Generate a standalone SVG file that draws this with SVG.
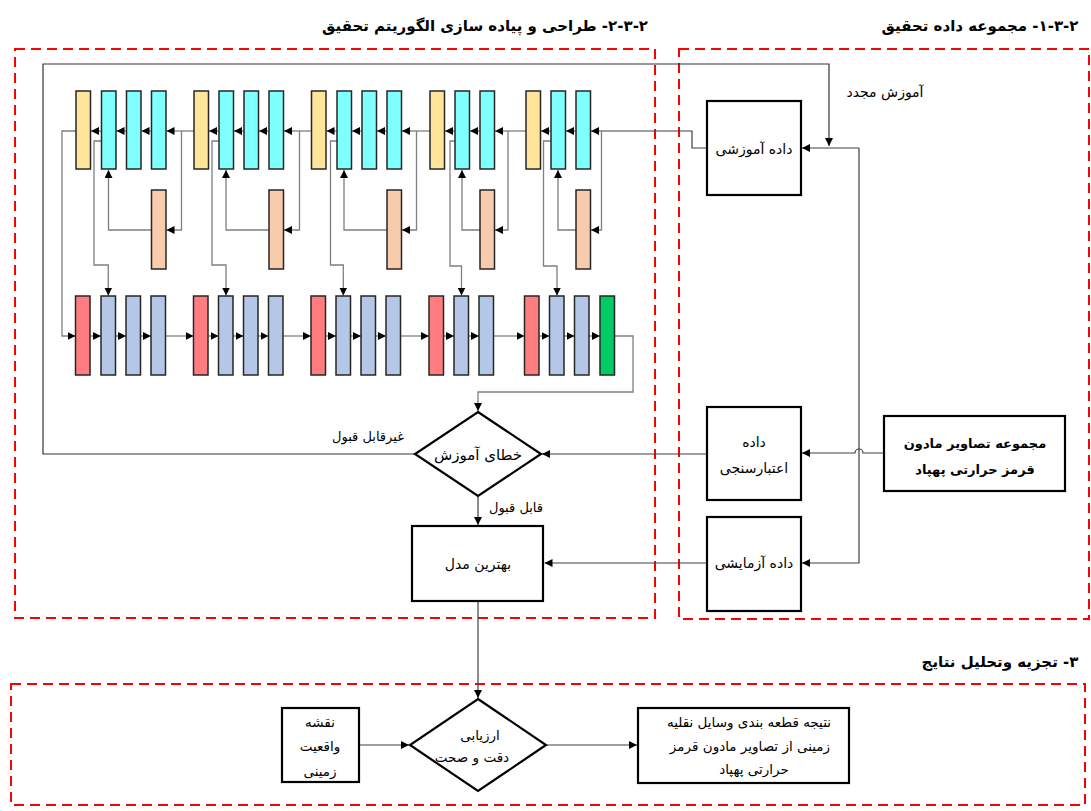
<svg xmlns="http://www.w3.org/2000/svg" width="1091" height="811" viewBox="0 0 1091 811">
<defs>
<marker id="arr" markerUnits="userSpaceOnUse" markerWidth="8" markerHeight="8" refX="7" refY="3.5" orient="auto" viewBox="0 0 7 7">
<path d="M0,0 L7,3.5 L0,7 z" fill="#000"/>
</marker>
<style>
.region{fill:none;stroke:#ff0000;stroke-width:2;stroke-dasharray:10,6}
.box{fill:#fff;stroke:#000;stroke-width:2.2}
.blk{stroke:#262626;stroke-width:1.5}
.y{fill:#ffe599}
.c{fill:#80ffff}
.o{fill:#f8cbad}
.r{fill:#ff7c80}
.b{fill:#b4c7e7}
.g{fill:#00cc66}
.net{fill:none;stroke:#7f7f7f;stroke-width:1.3}
.net2{fill:none;stroke:#7f7f7f;stroke-width:1.3;marker-end:url(#arr)}
.ln{fill:none;stroke:#404040;stroke-width:1.2}
.la{fill:none;stroke:#404040;stroke-width:1.2;marker-end:url(#arr)}
text{font-family:"DejaVu Sans","Noto Sans",sans-serif;fill:#000;direction:rtl;unicode-bidi:bidi-override;text-anchor:middle}
.t{font-size:15px;font-weight:bold}
.n{font-size:14px}
.nb{font-size:13px;font-weight:bold}
.s{font-size:13.5px}
</style>
</defs>

<g id="regions">
<rect class="region" x="15" y="49" width="640" height="569"/>
<rect class="region" x="679" y="49" width="410" height="570"/>
<rect class="region" x="11" y="684" width="1074" height="121"/>
</g>

<g id="titles">
<text class="t" x="980" y="31">۲-۳-۱- مجموعه داده تحقیق</text>
<text class="t" x="485" y="31">۲-۳-۲- طراحی و پیاده سازی الگوریتم تحقیق</text>
<text class="t" x="1000" y="667">۳- تجزیه وتحلیل نتایج</text>
</g>

<g id="connectors">
<path class="ln" d="M415,454 L43,454 L43,64 L829,64 L829,146" style="stroke:#333;marker-end:url(#arr)"/>
<path class="la" d="M707,148 L692,148 L692,131 L591,131"/>
<path class="net2" d="M576,131 L566,131"/>
<path class="net2" d="M551,131 L541,131"/>
<path class="net2" d="M526,131 L495,131"/>
<path class="net2" d="M480,131 L470,131"/>
<path class="net2" d="M455,131 L445,131"/>
<path class="net2" d="M430,131 L402,131"/>
<path class="net2" d="M387,131 L377,131"/>
<path class="net2" d="M362,131 L352,131"/>
<path class="net2" d="M337,131 L326.5,131"/>
<path class="net2" d="M311.5,131 L284,131"/>
<path class="net2" d="M269,131 L259,131"/>
<path class="net2" d="M244,131 L234,131"/>
<path class="net2" d="M219,131 L209,131"/>
<path class="net2" d="M194,131 L166.5,131"/>
<path class="net2" d="M151.5,131 L141.5,131"/>
<path class="net2" d="M126.5,131 L116.5,131"/>
<path class="net2" d="M101.5,131 L91,131"/>
<path class="net2" d="M76,131 L62,131 L62,336 L75.5,336"/>
<path class="net2" d="M601.5,131 L601.5,230 L591,230"/>
<path class="net2" d="M576,230 L558,230 L558,170"/>
<path class="net2" d="M508,131 L508,230 L495,230"/>
<path class="net2" d="M480,230 L462,230 L462,170"/>
<path class="net2" d="M416.5,131 L416.5,230 L402,230"/>
<path class="net2" d="M387,230 L344,230 L344,170"/>
<path class="net2" d="M299.5,131 L299.5,230 L284,230"/>
<path class="net2" d="M269,230 L226,230 L226,170"/>
<path class="net2" d="M181.5,131 L181.5,230 L166.5,230"/>
<path class="net2" d="M151.5,230 L108.5,230 L108.5,170"/>
<path class="net2" d="M101.5,141 L94,141 L94,265 L108.3,265 L108.3,295.5"/>
<path class="net2" d="M219,141 L212,141 L212,265 L226,265 L226,295.5"/>
<path class="net2" d="M337,141 L330.5,141 L330.5,265 L343.3,265 L343.3,295.5"/>
<path class="net2" d="M455,141 L450,141 L450,266 L461.5,266 L461.5,295.5"/>
<path class="net2" d="M551,141 L543.5,141 L543.5,266 L557,266 L557,295.5"/>
<path class="net2" d="M90,336 L101,336"/>
<path class="net2" d="M115.5,336 L126,336"/>
<path class="net2" d="M140.5,336 L151,336"/>
<path class="net2" d="M165.5,336 L193.5,336"/>
<path class="net2" d="M208,336 L218.5,336"/>
<path class="net2" d="M233,336 L243.5,336"/>
<path class="net2" d="M258,336 L268.5,336"/>
<path class="net2" d="M283,336 L311,336"/>
<path class="net2" d="M325.5,336 L336,336"/>
<path class="net2" d="M350.5,336 L361,336"/>
<path class="net2" d="M375.5,336 L386,336"/>
<path class="net2" d="M400.5,336 L429,336"/>
<path class="net2" d="M443.5,336 L454,336"/>
<path class="net2" d="M468.5,336 L479,336"/>
<path class="net2" d="M493.5,336 L524.5,336"/>
<path class="net2" d="M539,336 L549.5,336"/>
<path class="net2" d="M564,336 L574.5,336"/>
<path class="net2" d="M589,336 L600,336"/>
<path class="net2" d="M614.5,336 L633,336 L633,392 L478,392 L478,411"/>
<path class="la" d="M859,148 L802,148"/>
<path class="la" d="M859,148 L859,563 L802,563"/>
<path class="la" d="M884,453 L863,453 A4,4 0 0 0 855,453 L802,453"/>
<path class="la" d="M707,454 L542,454"/>
<path class="la" d="M707,563 L544.5,563"/>
<path class="la" d="M478,496 L478,525"/>
<path class="la" d="M478,601 L478,698"/>
<path class="la" d="M359,745 L409,745"/>
<path class="la" d="M546,745 L637,745"/>
</g>

<g id="labels">
<text class="n" x="885" y="97">آموزش مجدد</text>
<text class="n" style="font-size:13px" x="368" y="441">غیرقابل قبول</text>
<text class="n" style="font-size:13px" x="516" y="512">قابل قبول</text>
</g>

<g id="network">
<g id="top-row">
<rect class="blk y" x="76" y="91" width="14.5" height="78"/>
<rect class="blk c" x="101.5" y="91" width="14.5" height="78"/>
<rect class="blk c" x="126.5" y="91" width="14.5" height="78"/>
<rect class="blk c" x="151.5" y="91" width="14.5" height="78"/>
<rect class="blk y" x="194" y="91" width="14.5" height="78"/>
<rect class="blk c" x="219" y="91" width="14.5" height="78"/>
<rect class="blk c" x="244" y="91" width="14.5" height="78"/>
<rect class="blk c" x="269" y="91" width="14.5" height="78"/>
<rect class="blk y" x="311.5" y="91" width="14.5" height="78"/>
<rect class="blk c" x="337" y="91" width="14.5" height="78"/>
<rect class="blk c" x="362" y="91" width="14.5" height="78"/>
<rect class="blk c" x="387" y="91" width="14.5" height="78"/>
<rect class="blk y" x="430" y="91" width="14.5" height="78"/>
<rect class="blk c" x="455" y="91" width="14.5" height="78"/>
<rect class="blk c" x="480" y="91" width="14.5" height="78"/>
<rect class="blk y" x="526" y="91" width="14.5" height="78"/>
<rect class="blk c" x="551" y="91" width="14.5" height="78"/>
<rect class="blk c" x="576" y="91" width="14.5" height="78"/>
</g>
<g id="mid-row">
<rect class="blk o" x="151.5" y="190" width="14.5" height="79"/>
<rect class="blk o" x="269" y="190" width="14.5" height="79"/>
<rect class="blk o" x="387" y="190" width="14.5" height="79"/>
<rect class="blk o" x="480" y="190" width="14.5" height="79"/>
<rect class="blk o" x="576" y="190" width="14.5" height="79"/>
</g>
<g id="bottom-row">
<rect class="blk r" x="75.5" y="296" width="14.5" height="79"/>
<rect class="blk b" x="101" y="296" width="14.5" height="79"/>
<rect class="blk b" x="126" y="296" width="14.5" height="79"/>
<rect class="blk b" x="151" y="296" width="14.5" height="79"/>
<rect class="blk r" x="193.5" y="296" width="14.5" height="79"/>
<rect class="blk b" x="218.5" y="296" width="14.5" height="79"/>
<rect class="blk b" x="243.5" y="296" width="14.5" height="79"/>
<rect class="blk b" x="268.5" y="296" width="14.5" height="79"/>
<rect class="blk r" x="311" y="296" width="14.5" height="79"/>
<rect class="blk b" x="336" y="296" width="14.5" height="79"/>
<rect class="blk b" x="361" y="296" width="14.5" height="79"/>
<rect class="blk b" x="386" y="296" width="14.5" height="79"/>
<rect class="blk r" x="429" y="296" width="14.5" height="79"/>
<rect class="blk b" x="454" y="296" width="14.5" height="79"/>
<rect class="blk b" x="479" y="296" width="14.5" height="79"/>
<rect class="blk r" x="524.5" y="296" width="14.5" height="79"/>
<rect class="blk b" x="549.5" y="296" width="14.5" height="79"/>
<rect class="blk b" x="574.5" y="296" width="14.5" height="79"/>
<rect class="blk g" x="600" y="296" width="14.5" height="79"/>
</g>
</g>

<g id="train-data">
<rect class="box" x="707" y="101" width="94" height="94"/>
<text class="n" x="754" y="154">داده آموزشی</text>
</g>
<g id="val-data">
<rect class="box" x="707" y="407" width="94" height="93"/>
<text class="n" x="754" y="447">داده</text>
<text class="n" x="754" y="473">اعتبارسنجی</text>
</g>
<g id="test-data">
<rect class="box" x="707" y="517" width="94" height="94"/>
<text class="n" x="754" y="568">داده آزمایشی</text>
</g>
<g id="source">
<rect class="box" x="884" y="416" width="181" height="75"/>
<text class="nb" x="975" y="448">مجموعه تصاویر مادون</text>
<text class="nb" x="975" y="474">قرمز حرارتی پهپاد</text>
</g>
<g id="error-diamond">
<polygon class="box" points="478,412 541,454 478,496 415,454"/>
<text class="n" style="font-size:15px" x="478" y="460">خطای آموزش</text>
</g>
<g id="best-model">
<rect class="box" x="412" y="526" width="131" height="75"/>
<text class="n" x="478" y="569">بهترین مدل</text>
</g>
<g id="ground-truth">
<rect class="box" x="282" y="708" width="77" height="74"/>
<text class="s" x="320" y="727">نقشه</text>
<text class="s" x="320" y="751">واقعیت</text>
<text class="s" x="320" y="776">زمینی</text>
</g>
<g id="eval-diamond">
<polygon class="box" points="478,699 546,745 478,791 410,745"/>
<text class="s" x="480" y="740">ارزیابی</text>
<text class="s" x="472" y="762">دقت و صحت</text>
</g>
<g id="result">
<rect class="box" x="638" y="708" width="211" height="75"/>
<text class="s" x="749" y="727">نتیجه قطعه بندی وسایل نقلیه</text>
<text class="s" x="750" y="751">زمینی از تصاویر مادون قرمز</text>
<text class="s" x="754" y="774">حرارتی پهپاد</text>
</g>
</svg>
